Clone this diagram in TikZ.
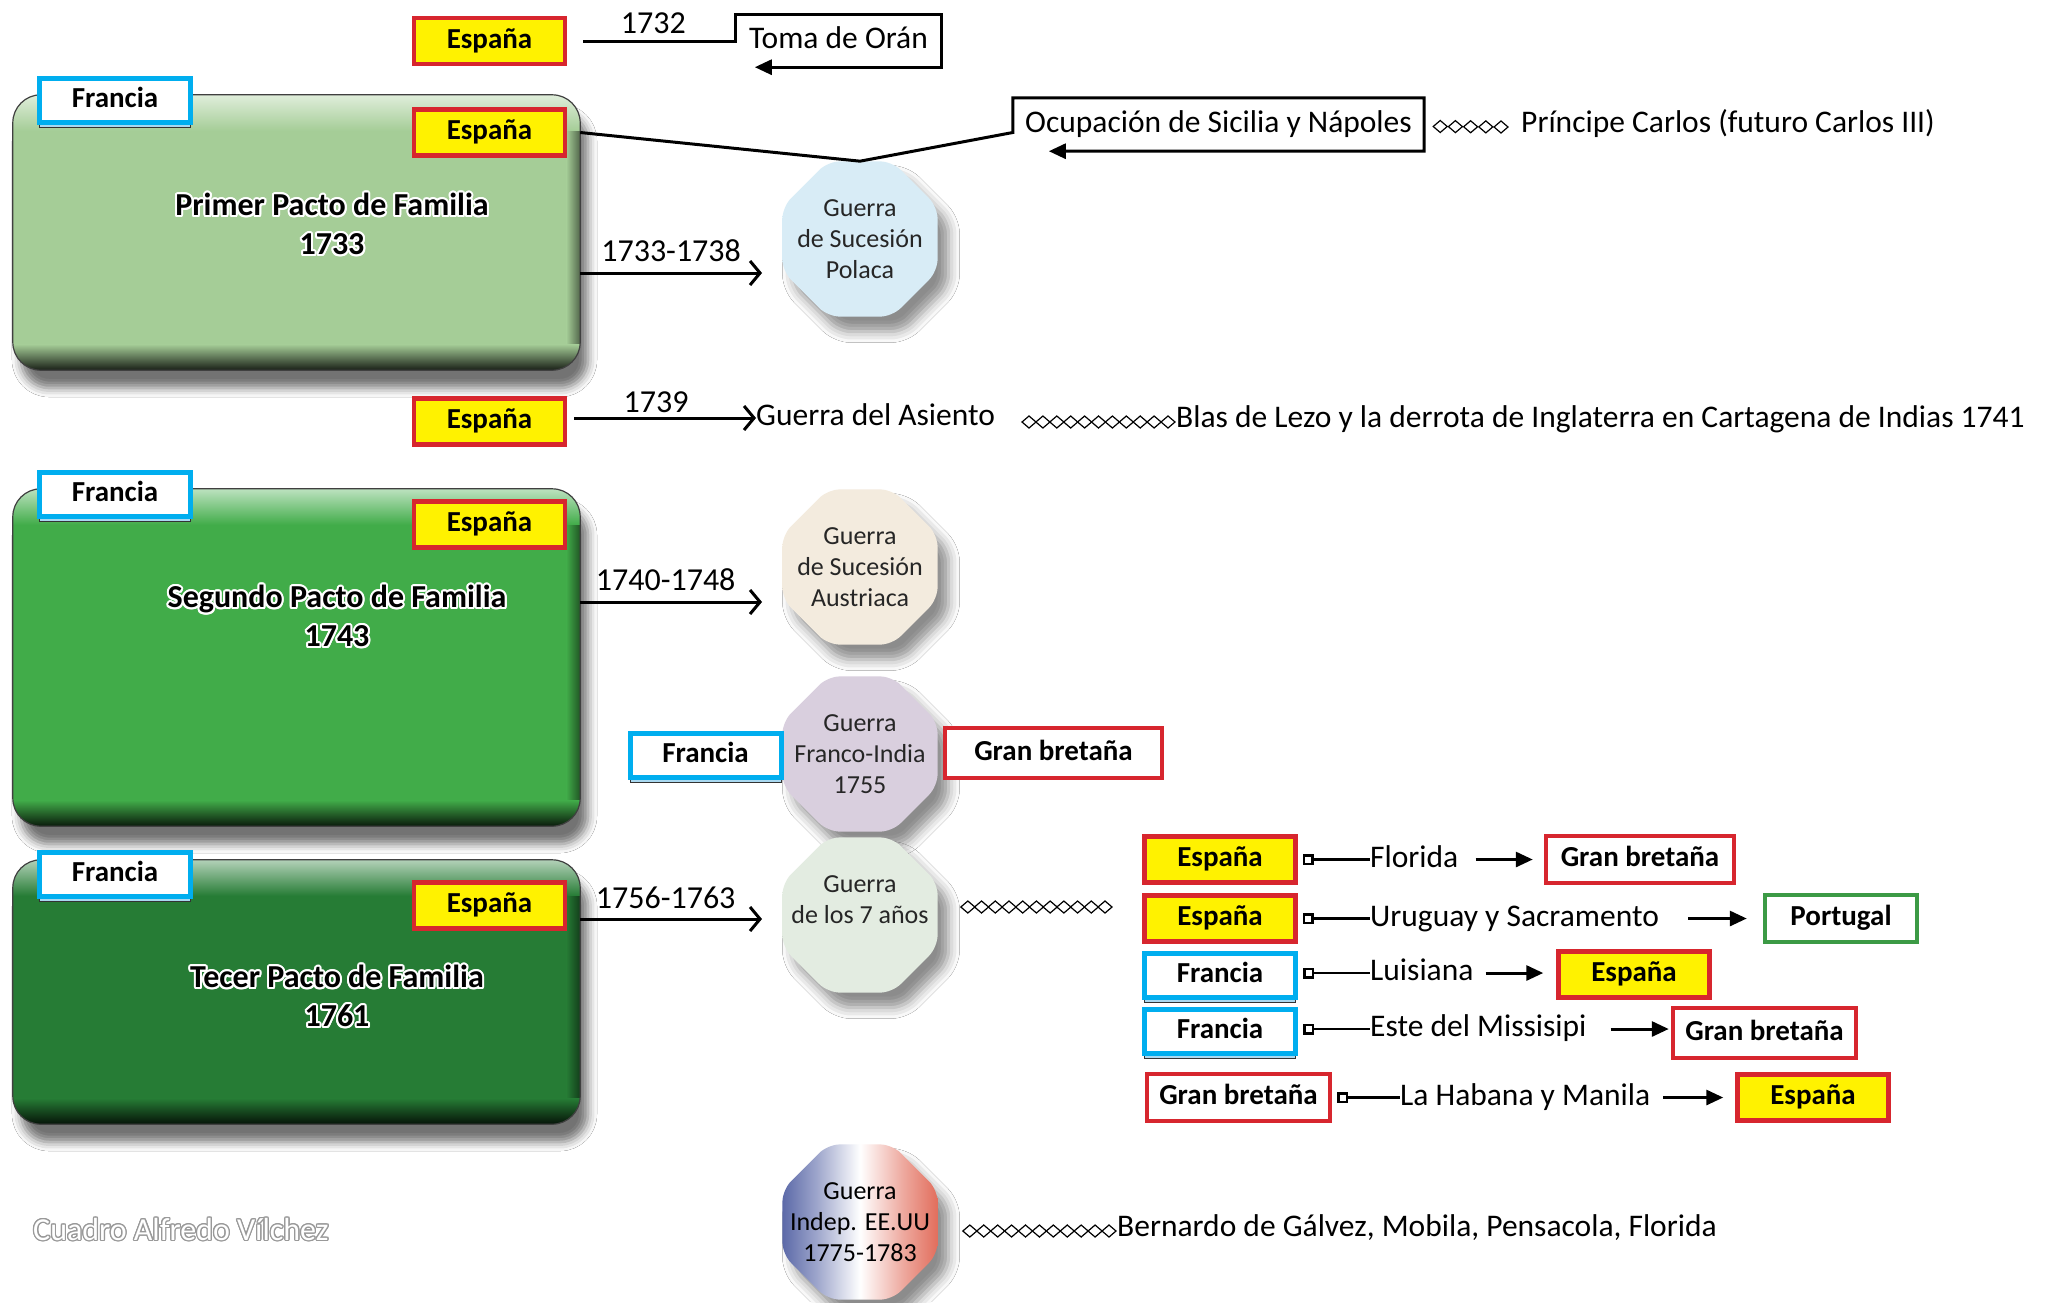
\documentclass[tikz,border=0pt]{standalone}
\usepackage{fontspec}
\setmainfont{Carlito}
\usepackage{contour}
\usetikzlibrary{shapes.geometric,arrows.meta,shadows.blur,calc}

% palette
\definecolor{espRed}{HTML}{D7262E}
\definecolor{espYellow}{HTML}{FFF200}
\definecolor{fraCyan}{HTML}{00AEEF}
\definecolor{fraBack}{HTML}{A9D8F0}
\definecolor{porGreen}{HTML}{3C9A45}
\definecolor{pactoA}{HTML}{A5CD97}
\definecolor{pactoB}{HTML}{41AC49}
\definecolor{pactoC}{HTML}{267C35}
\definecolor{polIn}{HTML}{D8ECF6}
\definecolor{polOut}{HTML}{A6C2D1}
\definecolor{ausIn}{HTML}{F3EBDE}
\definecolor{ausOut}{HTML}{C6BAA8}
\definecolor{fraIn}{HTML}{D9CFDE}
\definecolor{fraOut}{HTML}{A396AA}
\definecolor{sieIn}{HTML}{E3ECE1}
\definecolor{sieOut}{HTML}{B2BEAF}
\definecolor{indBlue}{HTML}{26388C}
\definecolor{indRed}{HTML}{D83E27}

% octagon fills
\pgfdeclareradialshading{octPol}{\pgfpoint{0bp}{0bp}}{color(0bp)=(polIn); color(30bp)=(polIn); color(50bp)=(polOut); color(70bp)=(polOut)}
\pgfdeclareradialshading{octAus}{\pgfpoint{0bp}{0bp}}{color(0bp)=(ausIn); color(30bp)=(ausIn); color(50bp)=(ausOut); color(70bp)=(ausOut)}
\pgfdeclareradialshading{octFra}{\pgfpoint{0bp}{0bp}}{color(0bp)=(fraIn); color(30bp)=(fraIn); color(50bp)=(fraOut); color(70bp)=(fraOut)}
\pgfdeclareradialshading{octSie}{\pgfpoint{0bp}{0bp}}{color(0bp)=(sieIn); color(30bp)=(sieIn); color(50bp)=(sieOut); color(70bp)=(sieOut)}
\pgfdeclarehorizontalshading{octInd}{100bp}{color(0bp)=(indBlue); color(16bp)=(indBlue); color(36bp)=(indBlue!45!white); color(50bp)=(white); color(64bp)=(indRed!45!white); color(84bp)=(indRed); color(100bp)=(indRed)}

% bevelled edges of a big rounded box
\newcommand{\bevelbox}[2]{%
  \begin{scope}
    \clip[rounded corners=28pt] (#1.north west) rectangle (#1.south east);
    \shade[left color=#2, right color=#2!50!black] ([xshift=-14pt]#1.north east) rectangle (#1.south east);
    \shade[top color=#2!35!white, bottom color=#2] (#1.north west) rectangle ([yshift=-36pt]#1.north east);
    \shade[top color=#2, bottom color=#2!15!black] ([yshift=26pt]#1.south west) rectangle (#1.south east);
  \end{scope}
  \draw[rounded corners=28pt, draw=black!75, line width=1.2pt] (#1.north west) rectangle (#1.south east);}

% chain of small diamonds between two named points (#3 = number of gaps)
\newcommand{\diachain}[3]{%
  \foreach \k in {0,...,#3} {
    \draw[dia] ($(#1)!\k/#3!(#2)$) +(-7,0) -- +(0,6) -- +(7,0) -- +(0,-6) -- cycle;
  }}

\begin{document}
\begin{tikzpicture}[x=1pt,y=-1pt,
  plain/.style={font=\fontsize{31.5}{38}\selectfont, inner sep=0pt, text height=23pt, text depth=7.5pt},
  country/.style={minimum height=46pt, inner sep=0pt, font=\fontsize{29}{30}\selectfont\bfseries,
    text height=20pt, text depth=6pt, line width=4.5pt},
  espana/.style={country, fill=espYellow, draw=espRed, minimum width=151pt},
  francia/.style={country, fill=white, draw=fraCyan, line width=5pt, minimum width=151pt, minimum height=44pt,
    preaction={draw=black!80, line width=1pt, fill=fraBack, transform canvas={yshift=-5pt}}},
  gbbox/.style={country, fill=white, draw=espRed, minimum width=183pt, minimum height=47pt},
  porbox/.style={country, fill=white, draw=porGreen, minimum width=152pt, minimum height=47pt},
  pacto/.style={rounded corners=28pt, inner sep=0pt, minimum width=567pt,
    blur shadow={shadow xshift=8pt, shadow yshift=-18pt, shadow blur radius=9pt, shadow opacity=55}},
  titletext/.style={font=\fontsize{32}{39}\selectfont\bfseries, text=black, align=center, inner sep=0pt},
  octa/.style={regular polygon, regular polygon sides=8, minimum size=168pt, inner sep=-25pt,
    rounded corners=12pt, shade, align=center, font=\fontsize{26}{31}\selectfont, text=black!85,
    blur shadow={shadow xshift=11pt, shadow yshift=-15pt, shadow blur radius=11pt, shadow opacity=45}},
  conn/.style={line width=3pt},
  farrow/.style={conn, -{Triangle[length=17pt,width=15pt]}},
  barb/.style={conn, -{Straight Barb[length=10pt,width=24pt]}},
  sq/.style={line width=2.5pt, {Square[open,length=11pt,width=11pt]}-},
  dia/.style={draw=black, line width=1.2pt, fill=white},
  yearlbl/.style={font=\fontsize{32}{38}\selectfont, inner sep=0pt, text height=23pt, text depth=0pt}
]
\fill[white] (0,0) rectangle (2049,1302);
\useasboundingbox (0,0) rectangle (2049,1302);

% ---------- the three family pacts ----------
\node[pacto, fill=pactoA, minimum height=275pt] (pacto1) at (296.5,232.5) {};
\bevelbox{pacto1}{pactoA}
\node[pacto, fill=pactoB, minimum height=337pt] (pacto2) at (296.5,657.5) {};
\bevelbox{pacto2}{pactoB}
\node[pacto, fill=pactoC, minimum height=264pt] (pacto3) at (296.5,992) {};
\bevelbox{pacto3}{pactoC}

\contourlength{2pt}
\node[titletext] (tit1) at (332,225) {\contour{white}{Primer Pacto de Familia}\\\contour{white}{1733}};
\node[titletext] (tit2) at (337,617) {\contour{white}{Segundo Pacto de Familia}\\\contour{white}{1743}};
\node[titletext] (tit3) at (337,997) {\contour{white}{Tecer Pacto de Familia}\\\contour{white}{1761}};

\node[francia] (fr1) at (115,100.5) {Francia};
\node[francia] (fr2) at (115,494) {Francia};
\node[francia] (fr3) at (115,874) {Francia};
\node[espana] (espA) at (489.5,132.5) {España};
\node[espana] (espB2) at (489.5,524.5) {España};
\node[espana] (espC) at (489.5,905.5) {España};

% ---------- 1732: Orán ----------
\node[espana] (espTop) at (489.5,41) {España};
\node[plain, minimum width=205pt, minimum height=52pt] (toma) at (838.5,41) {Toma de Orán};
\draw[farrow] ([xshift=16pt]espTop.east) -- node[yearlbl, above=6pt, pos=0.46] {1732} (toma.west |- espTop.east)
  -- (toma.north west) -- (toma.north east) -- (toma.south east) -- ([xshift=19pt]toma.south west);

% ---------- wars ----------
\node[octa, shading=octPol] (polaca) at (860,239) {Guerra\\de Sucesión\\Polaca};
\node[octa, shading=octAus] (austriaca) at (860,567) {Guerra\\de Sucesión\\Austriaca};
\node[octa, shading=octFra] (francoindia) at (860,754) {Guerra\\Franco-India\\1755};
\node[octa, shading=octSie] (siete) at (860,915) {Guerra\\de los 7 años\\\mbox{}};
\node[octa, shading=octInd, text=black] (indep) at (860,1222) {Guerra\\Indep. EE.UU\\1775-1783};

% Sicily and Naples
\node[plain, minimum width=411pt, minimum height=53pt] (ocup) at (1218.5,124.5) {Ocupación de Sicilia y Nápoles};
\draw[farrow] (pacto1.east |- espA.east) -- (polaca.north) -- (ocup.west |- espA.east)
  -- (ocup.north west) -- (ocup.north east) -- (ocup.south east) -- ([xshift=36pt]ocup.south west);
\node[plain, anchor=west] (principe) at (1521,125) {Príncipe Carlos (futuro Carlos III)};
\coordinate (dA0) at ($(ocup.east)+(16,2)$);
\coordinate (dA1) at ($(principe.west)+(-20,2)$);
\diachain{dA0}{dA1}{4}

\coordinate (a1) at (762,273);
\draw[barb] (pacto1.east |- a1) -- node[yearlbl, above=10pt] {1733-1738} (a1);

% 1739
\node[espana] (espB) at (489.5,421.5) {España};
\node[plain, anchor=west] (asiento) at (756,418) {Guerra del Asiento};
\draw[barb] ([xshift=7pt]espB.east |- asiento.west) -- node[yearlbl, above=4pt, pos=0.45] {1739} (asiento.west);
\node[plain, anchor=west] (blas) at (1176,420) {Blas de Lezo y la derrota de Inglaterra en Cartagena de Indias 1741};
\coordinate (dB0) at (1029,422);
\coordinate (dB1) at ($(blas.west)+(-8,2)$);
\diachain{dB0}{dB1}{10}

\coordinate (a2) at (762,602);
\draw[barb] (pacto2.east |- a2) -- node[yearlbl, above=10pt, pos=0.47] {1740-1748} (a2);

% French and Indian War
\node[francia] (frFI) at (705.5,755.5) {Francia};
\node[gbbox, minimum width=217pt, minimum height=50pt] (gbFI) at (1053.5,753) {Gran bretaña};

\coordinate (a3) at (762,919);
\draw[barb] (pacto3.east |- a3) -- node[yearlbl, above=9pt, pos=0.47] {1756-1763} (a3);

% Seven Years' War: territorial changes
\coordinate (dC0) at ($(siete.east)+(30,-8)$);
\coordinate (dC1) at (1105,907);
\diachain{dC0}{dC1}{10}

\node[espana] (lsE1) at (1220,859.5) {España};
\node[plain, anchor=west] (florida) at (1370,859.5) {Florida};
\node[gbbox, minimum width=188pt] (lsG1) at (1640,859.5) {Gran bretaña};
\draw[sq] ([xshift=5pt]lsE1.east) -- (florida.west);
\draw[farrow] ([xshift=17pt]florida.east) -- ([xshift=-11pt]lsG1.west);

\node[espana] (lsE2) at (1220,918.5) {España};
\node[plain, anchor=west] (uruguay) at (1370,918.5) {Uruguay y Sacramento};
\node[porbox] (lsP2) at (1841,918.5) {Portugal};
\draw[sq] ([xshift=5pt]lsE2.east) -- (uruguay.west);
\draw[farrow] ([xshift=29pt]uruguay.east) -- ([xshift=-16pt]lsP2.west);

\node[francia] (lsF3) at (1220,975.5) {Francia};
\node[plain, anchor=west] (luisiana) at (1370,973) {Luisiana};
\node[espana] (lsE3) at (1634,974.5) {España};
\draw[sq] ($(lsF3.east |- luisiana.west)+(5,0)$) -- (luisiana.west);
\draw[farrow] ([xshift=12pt]luisiana.east) -- ([xshift=-13pt]lsE3.west |- luisiana.east);

\node[francia] (lsF4) at (1220,1031.5) {Francia};
\node[plain, anchor=west] (missisipi) at (1370,1029) {Este del Missisipi};
\node[gbbox, minimum height=50pt] (lsG4) at (1764.5,1033) {Gran bretaña};
\draw[sq] ($(lsF4.east |- missisipi.west)+(5,0)$) -- (missisipi.west);
\draw[farrow] ([xshift=24pt]missisipi.east) -- ($(lsG4.west |- missisipi.east)+(-2,0)$);

\node[gbbox] (lsG5) at (1238.5,1097.5) {Gran bretaña};
\node[plain, anchor=west] (habana) at (1400,1097.5) {La Habana y Manila};
\node[espana] (lsE5) at (1813,1097.5) {España};
\draw[sq] ([xshift=5pt]lsG5.east) -- (habana.west);
\draw[farrow] ([xshift=13pt]habana.east) -- ([xshift=-12pt]lsE5.west);

% American Revolutionary War
\node[plain, anchor=west] (galvez) at (1117,1229) {Bernardo de Gálvez, Mobila, Pensacola, Florida};
\coordinate (dD0) at ($(indep.east)+(32,9)$);
\coordinate (dD1) at ($(galvez.west)+(-8,2)$);
\diachain{dD0}{dD1}{10}

% author credit
\contourlength{1.2pt}
\node[font=\fontsize{32}{33}\selectfont, text=white, anchor=west, inner sep=0pt] (credit) at (33,1230) {\contour{black!40}{Cuadro Alfredo Vílchez}};
\end{tikzpicture}
\end{document}
